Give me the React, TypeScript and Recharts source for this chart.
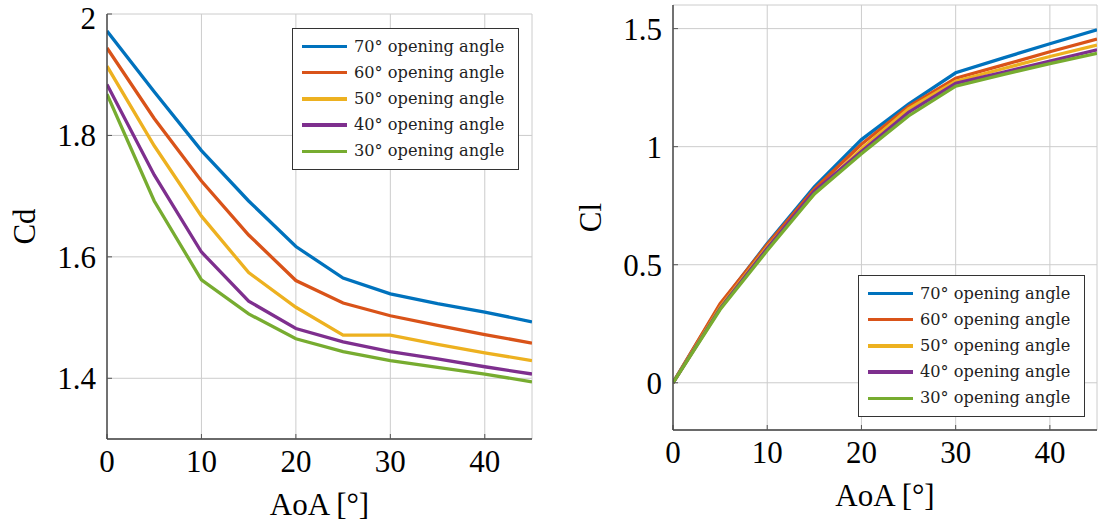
import React from 'react';
import { LineChart, Line, XAxis, YAxis, CartesianGrid, Label } from 'recharts';

// ---------- data ----------
const aoa = [0, 5, 10, 15, 20, 25, 30, 35, 40, 45];
const angleLabels = ['70° opening angle', '60° opening angle', '50° opening angle', '40° opening angle', '30° opening angle'];
const seriesKeys = ['a70', 'a60', 'a50', 'a40', 'a30'];
const seriesColors = ['#0072BD', '#D95319', '#EDB120', '#7E2F8E', '#77AC30'];

const cd70 = [1.972, 1.872, 1.775, 1.692, 1.617, 1.565, 1.539, 1.523, 1.509, 1.493];
const cd60 = [1.944, 1.828, 1.725, 1.636, 1.561, 1.524, 1.503, 1.487, 1.472, 1.458];
const cd50 = [1.914, 1.783, 1.667, 1.574, 1.517, 1.471, 1.471, 1.456, 1.442, 1.429];
const cd40 = [1.884, 1.735, 1.608, 1.527, 1.482, 1.46, 1.444, 1.432, 1.419, 1.407];
const cd30 = [1.868, 1.692, 1.562, 1.506, 1.465, 1.444, 1.429, 1.418, 1.407, 1.394];

const cl70 = [0, 0.33, 0.59, 0.83, 1.03, 1.18, 1.313, 1.375, 1.436, 1.495];
const cl60 = [0, 0.335, 0.585, 0.82, 1.01, 1.17, 1.29, 1.345, 1.402, 1.456];
const cl50 = [0, 0.32, 0.575, 0.80, 0.99, 1.16, 1.277, 1.33, 1.382, 1.43];
const cl40 = [0, 0.315, 0.57, 0.81, 0.98, 1.145, 1.268, 1.315, 1.362, 1.41];
const cl30 = [0, 0.31, 0.56, 0.80, 0.97, 1.13, 1.256, 1.305, 1.352, 1.395];

const xTicks = [0, 10, 20, 30, 40];
const cdTicks = [1.4, 1.6, 1.8, 2];
const clTicks = [0, 0.5, 1, 1.5];
const aoaDomain: [number, number] = [0, 45];
const cdDomain: [number, number] = [1.3, 2];
const clDomain: [number, number] = [-0.2, 1.6];

function buildRows(cols: number[][]) {
  return aoa.map((a, i) => {
    const r: any = { aoa: a };
    seriesKeys.forEach((k, j) => {
      r[k] = cols[j][i];
    });
    return r;
  });
}

const cdData = buildRows([cd70, cd60, cd50, cd40, cd30]);
const clData = buildRows([cl70, cl60, cl50, cl40, cl30]);

// ---------- style ----------
const SERIF = "'Liberation Serif', 'Times New Roman', serif";
const LEGEND_FONT = "'DejaVu Serif', serif";
const TICK_FONT = { fontFamily: SERIF, fontSize: 31, fill: '#000' };
const BORDER = '#404040';
const GRID = '#cccccc';

type PanelProps = {
  data: any[];
  yTicks: number[];
  yDomain: [number, number];
  yLabel: string;
  left: number;
  width: number;
  margin: { top: number; right: number; bottom: number; left: number };
  yAxisWidth: number;
  xAxisHeight: number;
  legendLeft: number;
  legendTop: number;
};

const fmt = (v: number) => String(v);

function Legend({ left, top }: { left: number; top: number }) {
  return (
    <div
      style={{
        position: 'absolute',
        left,
        top,
        width: 227,
        height: 142,
        boxSizing: 'border-box',
        border: '1.3px solid #333',
        background: '#fff',
      }}
    >
      {angleLabels.map((lab, i) => (
        <div
          key={lab}
          style={{
            position: 'absolute',
            left: 0,
            top: 17.5 + i * 26.2 - 10,
            height: 20,
            width: '100%',
          }}
        >
          <div
            style={{
              position: 'absolute',
              left: 9,
              top: 8.3,
              width: 45,
              height: 3.5,
              background: seriesColors[i],
            }}
          />
          <div
            style={{
              position: 'absolute',
              left: 61,
              top: 0,
              height: 20,
              lineHeight: '20px',
              fontFamily: LEGEND_FONT,
              fontSize: 16.2,
              color: '#222',
              whiteSpace: 'nowrap',
            }}
          >
            {lab}
          </div>
        </div>
      ))}
    </div>
  );
}

function Panel(p: PanelProps) {
  const height = 529;
  return (
    <div style={{ position: 'absolute', left: p.left, top: 0, width: p.width, height }}>
      <LineChart width={p.width} height={height} data={p.data} margin={p.margin}>
        <CartesianGrid stroke={GRID} strokeWidth={1} />
        <XAxis
          dataKey="aoa"
          type="number"
          domain={aoaDomain}
          ticks={xTicks}
          allowDataOverflow
          height={p.xAxisHeight}
          tick={TICK_FONT}
          tickSize={-5}
          tickMargin={16}
          tickLine={{ stroke: '#555' }}
          axisLine={{ stroke: BORDER, strokeWidth: 1.4 }}
        >
          <Label
            content={(props: any) => {
              const vb = props.viewBox || {};
              return (
                <text
                  x={vb.x + vb.width / 2}
                  y={vb.y + 76}
                  textAnchor="middle"
                  style={{ fontFamily: SERIF, fontSize: 31, fill: '#000' }}
                >
                  AoA [°]
                </text>
              );
            }}
          />
        </XAxis>
        <XAxis
          xAxisId="t"
          orientation="top"
          dataKey="aoa"
          type="number"
          domain={aoaDomain}
          ticks={xTicks}
          allowDataOverflow
          height={0}
          tick={false}
          tickSize={-5}
          tickLine={{ stroke: '#555' }}
          axisLine={{ stroke: BORDER, strokeWidth: 1.4 }}
        />
        <YAxis
          type="number"
          domain={p.yDomain}
          ticks={p.yTicks}
          allowDataOverflow
          width={p.yAxisWidth}
          tick={TICK_FONT}
          tickFormatter={fmt}
          tickSize={-5}
          tickMargin={16}
          tickLine={{ stroke: '#555' }}
          axisLine={{ stroke: BORDER, strokeWidth: 1.4 }}
        >
          <Label
            content={(props: any) => {
              const vb = props.viewBox || {};
              const x = vb.x + vb.width - 72;
              const y = vb.y + vb.height / 2;
              return (
                <text
                  x={x}
                  y={y}
                  transform={`rotate(-90, ${x}, ${y})`}
                  textAnchor="middle"
                  style={{ fontFamily: SERIF, fontSize: 31, fill: '#000' }}
                >
                  {p.yLabel}
                </text>
              );
            }}
          />
        </YAxis>
        <YAxis
          yAxisId="r"
          orientation="right"
          type="number"
          domain={p.yDomain}
          ticks={p.yTicks}
          allowDataOverflow
          width={0}
          tick={false}
          tickSize={-5}
          tickLine={{ stroke: '#555' }}
          axisLine={{ stroke: BORDER, strokeWidth: 1.4 }}
        />
        {seriesKeys.map((k, i) => (
          <Line
            key={k}
            dataKey={k}
            name={angleLabels[i]}
            type="linear"
            stroke={seriesColors[i]}
            strokeWidth={3.3}
            dot={false}
            activeDot={false}
            isAnimationActive={false}
          />
        ))}
      </LineChart>
      <Legend left={p.legendLeft - p.left} top={p.legendTop} />
    </div>
  );
}

export default function App() {
  return (
    <div style={{ position: 'absolute', left: 0, top: 0, width: 1099, height: 529, background: '#fff', overflow: 'hidden' }}>
      <Panel
        data={cdData}
        yTicks={cdTicks}
        yDomain={cdDomain}
        yLabel="Cd"
        left={0}
        width={545}
        margin={{ top: 14, right: 13, bottom: 0, left: 0 }}
        yAxisWidth={107}
        xAxisHeight={90}
        legendLeft={292}
        legendTop={28}
      />
      <Panel
        data={clData}
        yTicks={clTicks}
        yDomain={clDomain}
        yLabel="Cl"
        left={560}
        width={539}
        margin={{ top: 5, right: 2, bottom: 0, left: 0 }}
        yAxisWidth={113}
        xAxisHeight={99}
        legendLeft={858}
        legendTop={275}
      />
    </div>
  );
}
